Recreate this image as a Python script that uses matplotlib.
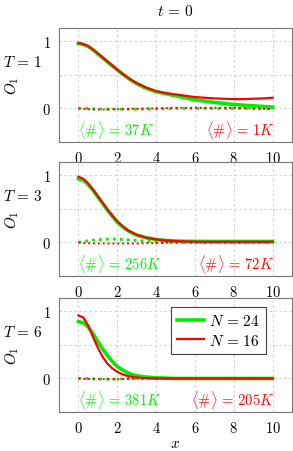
#!/usr/bin/env python
import matplotlib
matplotlib.use("Agg")
import matplotlib.pyplot as plt

plt.rcParams["mathtext.fontset"] = "cm"
plt.rcParams["font.family"] = "serif"
plt.rcParams["font.serif"] = ["cmr10", "DejaVu Serif"]
plt.rcParams["axes.formatter.use_mathtext"] = True

# data
x = [0, 0.25, 0.5, 0.75, 1, 1.25, 1.5, 1.75, 2, 2.25, 2.5, 2.75, 3,
     3.5, 4, 4.5, 5, 5.5, 6, 6.5, 7, 7.5, 8, 8.5, 9, 9.5, 10]

temps = ["1", "3", "6"]
counts_24 = ["37K", "256K", "381K"]
counts_16 = ["1K", "72K", "205K"]

# T = 1
t1_n24 = [0.97, 0.955, 0.925, 0.875, 0.815, 0.755, 0.695, 0.635, 0.575, 0.52, 0.465, 0.415, 0.37,
          0.30, 0.25, 0.22, 0.19, 0.16, 0.13, 0.11, 0.09, 0.075, 0.06, 0.05, 0.04, 0.03, 0.02]
t1_n16 = [0.975, 0.96, 0.93, 0.88, 0.82, 0.76, 0.70, 0.64, 0.58, 0.52, 0.47, 0.42, 0.38,
          0.31, 0.26, 0.23, 0.21, 0.19, 0.17, 0.16, 0.15, 0.145, 0.14, 0.14, 0.145, 0.15, 0.16]
t1_n24_dot = [0.0, 0.0, 0.0, -0.005, -0.005, -0.01, -0.01, -0.01, -0.01, -0.01, -0.01, -0.01, -0.01,
              -0.01, -0.005, -0.005, 0.0, 0.0, 0.0, 0.0, 0.0, 0.0, 0.0, 0.0, 0.0, 0.0, 0.0]
t1_n16_dot = [0.0, -0.005, -0.01, -0.015, -0.015, -0.015, -0.015, -0.01, -0.01, -0.01, -0.01, -0.005, -0.005,
              0.0, 0.0, 0.005, 0.01, 0.01, 0.01, 0.01, 0.01, 0.01, 0.01, 0.005, 0.0, -0.005, -0.01]

# T = 3
t3_n24 = [0.95, 0.93, 0.86, 0.78, 0.68, 0.58, 0.48, 0.39, 0.305, 0.24, 0.185, 0.145, 0.11,
          0.07, 0.045, 0.03, 0.022, 0.018, 0.016, 0.015, 0.015, 0.015, 0.015, 0.015, 0.015, 0.015, 0.015]
t3_n16 = [0.98, 0.95, 0.88, 0.79, 0.69, 0.59, 0.49, 0.40, 0.315, 0.25, 0.19, 0.15, 0.115,
          0.07, 0.045, 0.03, 0.02, 0.015, 0.012, 0.01, 0.01, 0.01, 0.01, 0.01, 0.01, 0.01, 0.01]
t3_n24_dot = [0.0, 0.015, 0.025, 0.035, 0.04, 0.045, 0.05, 0.05, 0.05, 0.045, 0.04, 0.035, 0.03,
              0.02, 0.01, 0.005, 0.0, 0.0, 0.0, 0.0, 0.0, 0.0, 0.0, 0.0, 0.0, 0.0, 0.0]
t3_n16_dot = [0.0, -0.005, -0.01, -0.015, -0.015, -0.015, -0.015, -0.015, -0.015, -0.015, -0.015, -0.015, -0.015,
              -0.01, -0.01, -0.005, 0.0, 0.0, 0.0, 0.0, 0.0, 0.0, 0.0, 0.0, 0.0, 0.0, 0.0]

# T = 6
t6_n24 = [0.85, 0.83, 0.77, 0.67, 0.55, 0.44, 0.34, 0.25, 0.18, 0.13, 0.09, 0.06, 0.04,
          0.02, 0.01, 0.005, 0.0, 0.0, 0.0, 0.0, 0.0, 0.0, 0.0, 0.0, 0.0, 0.0, 0.0]
t6_n16 = [0.94, 0.91, 0.79, 0.62, 0.46, 0.32, 0.22, 0.15, 0.10, 0.065, 0.04, 0.025, 0.015,
          0.005, 0.0, 0.0, 0.0, 0.0, 0.0, 0.0, 0.0, 0.0, 0.0, 0.0, 0.0, 0.0, 0.0]
t6_n24_dot = [0.0, 0.0, 0.0, -0.005, -0.005, -0.01, -0.01, -0.01, -0.01, -0.005, -0.005, 0.0, 0.0,
              0.0, 0.0, 0.0, 0.0, 0.0, 0.0, 0.0, 0.0, 0.0, 0.0, 0.0, 0.0, 0.0, 0.0]
t6_n16_dot = [0.0, -0.005, -0.005, -0.01, -0.01, -0.01, -0.01, -0.01, -0.01, -0.01, -0.005, -0.005, 0.0,
              0.0, 0.0, 0.0, 0.0, 0.0, 0.0, 0.0, 0.0, 0.0, 0.0, 0.0, 0.0, 0.0, 0.0]

solid_24 = [t1_n24, t3_n24, t6_n24]
solid_16 = [t1_n16, t3_n16, t6_n16]
dot_24 = [t1_n24_dot, t3_n24_dot, t6_n24_dot]
dot_16 = [t1_n16_dot, t3_n16_dot, t6_n16_dot]

green = "#00ee00"
red = "#ff0000"

fig = plt.figure(figsize=(2.93, 4.52), dpi=100)
left, width = 59 / 293, 233 / 293
tops = [29, 163, 299]
h = 114

for i, top in enumerate(tops):
    ax = fig.add_axes([left, 1 - (top + h) / 452, width, h / 452])
    ax.plot(x, solid_24[i], color=green, lw=2.6, label=r"$N\,=\,24$", zorder=3)
    ax.plot(x, solid_16[i], color=red, lw=1.6, label=r"$N\,=\,16$", zorder=4)
    ax.plot(x, dot_24[i], color=green, lw=2.0, ls=(0, (1, 1.5)), zorder=3)
    ax.plot(x, dot_16[i], color=red, lw=1.4, ls=(0, (1, 1.5)), zorder=4)

    ax.set_xlim(-1, 11)
    ax.set_ylim(-0.5, 1.2)
    ax.set_xticks([0, 2, 4, 6, 8, 10])
    ax.set_xticklabels([f"${v}$" for v in [0, 2, 4, 6, 8, 10]])
    ax.set_yticks([0, 0.5, 1])
    ax.set_yticklabels(["$0$", "", "$1$"])
    ax.tick_params(length=0, labelsize=10.5, pad=6)
    ax.grid(True, ls=(0, (3, 3)), color="#cccccc", lw=0.6)
    for s in ax.spines.values():
        s.set_color("#777777")
        s.set_linewidth(0.8)

    ax.text(-0.2, 0.5, r"$O_1$", transform=ax.transAxes, rotation=90,
            ha="center", va="center", fontsize=11)
    ax.text(-0.155, 0.71, rf"$T\,=\,{temps[i]}$", transform=ax.transAxes,
            ha="center", va="center", fontsize=11)
    ax.text(0.0, -0.3, rf"$\langle\#\rangle\,=\,{counts_24[i]}$", color=green,
            ha="left", va="center", fontsize=10.5)
    ax.text(10.1, -0.3, rf"$\langle\#\rangle\,=\,{counts_16[i]}$", color=red,
            ha="right", va="center", fontsize=10.5)

    if i == 0:
        ax.set_title(r"$t\,=\,0$", fontsize=11, pad=9)
    if i == 2:
        ax.set_xlabel(r"$x$", fontsize=11, labelpad=1)
        leg = ax.legend(loc="upper right", bbox_to_anchor=(0.888, 0.92),
                        borderaxespad=0, fontsize=11, fancybox=False,
                        framealpha=1, handlelength=1.8, borderpad=0.4,
                        labelspacing=0.3, handletextpad=0.3)
        leg.get_frame().set_edgecolor("#444444")
        leg.get_frame().set_linewidth(0.8)

fig.savefig("out.png", dpi=100)
